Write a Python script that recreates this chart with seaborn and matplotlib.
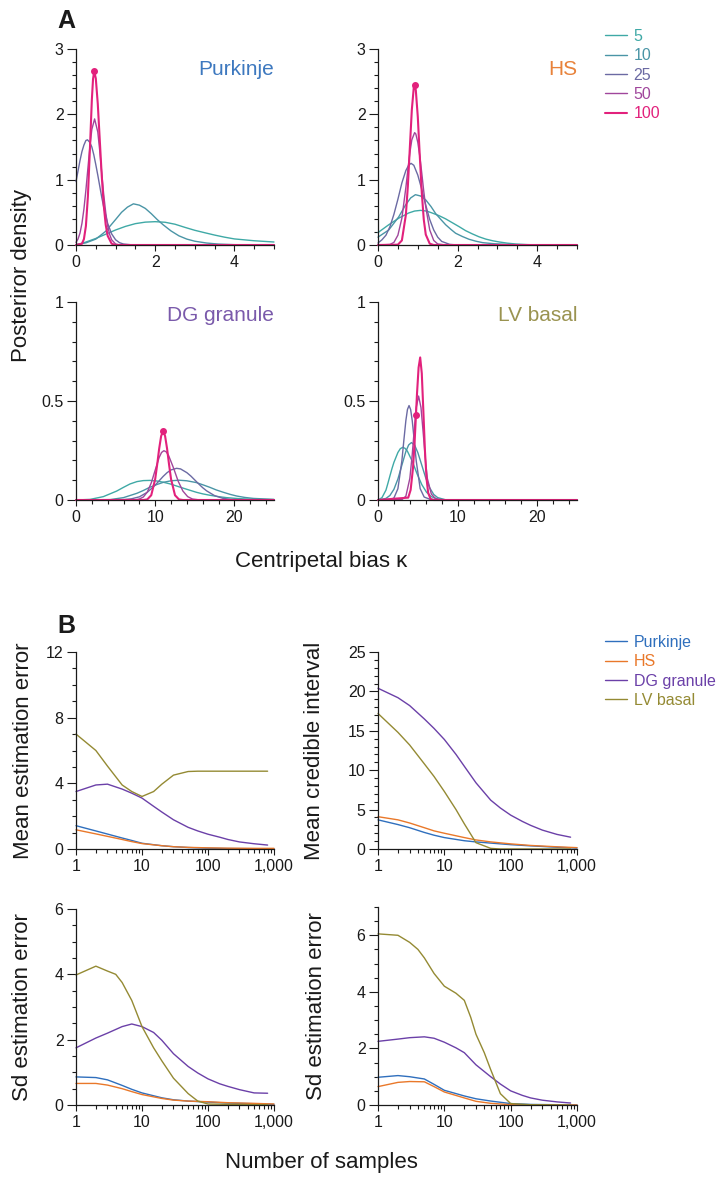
import matplotlib
matplotlib.use("Agg")
import matplotlib.pyplot as plt
import seaborn as sns
from matplotlib.ticker import FixedLocator, MultipleLocator, LogLocator, NullFormatter, FixedFormatter

# ------------------------------------------------------------------ data
sample_labels = ["5", "10", "25", "50", "100"]
cell_types = ["Purkinje", "HS", "DG granule", "LV basal"]

# Panel A: posterior density curves (x = centripetal bias, y = density)
purk_x5 = [0, 0.25, 0.5, 0.75, 1.0, 1.25, 1.5, 1.75, 2.0, 2.25, 2.5, 2.75, 3.0, 3.25, 3.5, 3.75, 4.0, 4.5, 5.0]
purk_y5 = [0.0, 0.045, 0.1, 0.165, 0.23, 0.285, 0.327, 0.35, 0.357, 0.348, 0.318, 0.27, 0.225, 0.188, 0.152, 0.12, 0.093, 0.065, 0.046]
purk_x10 = [0, 0.25, 0.5, 0.75, 1.0, 1.15, 1.3, 1.45, 1.6, 1.75, 1.9, 2.05, 2.2, 2.4, 2.6, 2.8, 3.0, 3.3, 3.6, 4.0, 4.5, 5.0]
purk_y10 = [0.005, 0.033, 0.09, 0.21, 0.39, 0.5, 0.58, 0.63, 0.61, 0.56, 0.48, 0.39, 0.31, 0.215, 0.14, 0.09, 0.058, 0.03, 0.014, 0.005, 0.0, 0.0]
purk_x25 = [0, 0.05, 0.1, 0.15, 0.2, 0.25, 0.29, 0.35, 0.4, 0.45, 0.5, 0.55, 0.6, 0.65, 0.7, 0.75, 0.8, 0.9, 1.0, 1.1, 1.2, 1.4, 1.6, 5.0]
purk_y25 = [0.97, 1.13, 1.29, 1.43, 1.53, 1.60, 1.61, 1.57, 1.50, 1.38, 1.23, 1.07, 0.90, 0.73, 0.58, 0.45, 0.33, 0.17, 0.08, 0.035, 0.015, 0.003, 0.0, 0.0]
purk_x50 = [0, 0.05, 0.1, 0.15, 0.2, 0.25, 0.3, 0.35, 0.4, 0.47, 0.55, 0.6, 0.65, 0.7, 0.75, 0.8, 0.85, 0.9, 1.0, 1.1, 1.2, 5.0]
purk_y50 = [0.04, 0.09, 0.18, 0.33, 0.55, 0.84, 1.17, 1.50, 1.77, 1.93, 1.73, 1.44, 1.10, 0.77, 0.50, 0.29, 0.16, 0.08, 0.015, 0.002, 0.0, 0.0]
purk_x100 = [0, 0.15, 0.2, 0.25, 0.3, 0.35, 0.4, 0.43, 0.46, 0.5, 0.55, 0.6, 0.65, 0.7, 0.75, 0.8, 0.9, 1.0, 5.0]
purk_y100 = [0, 0.02, 0.09, 0.29, 0.74, 1.45, 2.22, 2.54, 2.66, 2.55, 2.16, 1.61, 1.06, 0.61, 0.31, 0.14, 0.02, 0.0, 0.0]
purk_dot = [0.46, 2.66]

hs_x5 = [0, 0.27, 0.52, 0.77, 0.92, 1.07, 1.22, 1.36, 1.53, 1.70, 1.87, 2.04, 2.2, 2.37, 2.54, 2.71, 2.88, 3.05, 3.25, 3.47, 3.75, 4.06, 5.0]
hs_y5 = [0.19, 0.31, 0.41, 0.49, 0.52, 0.53, 0.52, 0.49, 0.45, 0.40, 0.34, 0.28, 0.22, 0.17, 0.125, 0.09, 0.065, 0.046, 0.028, 0.015, 0.006, 0.0, 0.0]
hs_x10 = [0, 0.27, 0.52, 0.69, 0.82, 0.94, 1.07, 1.20, 1.33, 1.45, 1.58, 1.70, 1.83, 1.95, 2.12, 2.29, 2.46, 2.63, 2.9, 3.22, 3.64, 5.0]
hs_y10 = [0.12, 0.23, 0.43, 0.61, 0.72, 0.77, 0.75, 0.69, 0.59, 0.48, 0.39, 0.31, 0.24, 0.18, 0.13, 0.087, 0.058, 0.036, 0.02, 0.01, 0.0, 0.0]
hs_x25 = [0, 0.1, 0.2, 0.3, 0.4, 0.5, 0.6, 0.7, 0.77, 0.83, 0.9, 1.0, 1.1, 1.2, 1.3, 1.4, 1.5, 1.6, 1.8, 2.0, 5.0]
hs_y25 = [0.03, 0.08, 0.15, 0.28, 0.47, 0.70, 0.95, 1.14, 1.22, 1.25, 1.22, 1.07, 0.85, 0.61, 0.39, 0.23, 0.12, 0.055, 0.01, 0.0, 0.0]
hs_x50 = [0, 0.3, 0.4, 0.5, 0.6, 0.7, 0.75, 0.8, 0.85, 0.92, 0.95, 1.0, 1.05, 1.1, 1.15, 1.2, 1.3, 1.4, 1.5, 1.7, 5.0]
hs_y50 = [0.0, 0.008, 0.04, 0.15, 0.41, 0.88, 1.15, 1.41, 1.61, 1.72, 1.70, 1.57, 1.36, 1.10, 0.82, 0.58, 0.23, 0.07, 0.016, 0.0, 0.0]
hs_x100 = [0, 0.5, 0.6, 0.7, 0.75, 0.8, 0.85, 0.9, 0.92, 0.95, 1.0, 1.05, 1.1, 1.15, 1.2, 1.3, 1.4, 5.0]
hs_y100 = [0, 0.005, 0.07, 0.46, 0.90, 1.49, 2.07, 2.42, 2.45, 2.37, 1.96, 1.36, 0.80, 0.39, 0.16, 0.02, 0.0, 0.0]
hs_dot = [0.92, 2.45]

dg_x5 = [0, 1.77, 3.45, 5.13, 6.0, 6.82, 7.7, 8.5, 9.35, 10.2, 11.0, 11.9, 12.75, 13.6, 14.4, 15.2, 16.0, 16.9, 18.0, 19.0, 20.2, 21.5, 23.0, 25.0]
dg_y5 = [0, 0.003, 0.017, 0.045, 0.064, 0.081, 0.093, 0.098, 0.099, 0.096, 0.09, 0.081, 0.07, 0.059, 0.049, 0.039, 0.031, 0.024, 0.017, 0.012, 0.008, 0.005, 0.003, 0.0017]
dg_x10 = [0, 4.3, 6.0, 7.7, 8.5, 9.3, 10.2, 11.0, 12.0, 13.0, 14.0, 15.2, 16.0, 16.9, 17.7, 18.6, 19.5, 20.3, 21.3, 22.4, 25.0]
dg_y10 = [0, 0.002, 0.012, 0.034, 0.048, 0.064, 0.078, 0.089, 0.097, 0.10, 0.097, 0.088, 0.077, 0.064, 0.051, 0.039, 0.028, 0.02, 0.013, 0.008, 0.003]
dg_x25 = [0, 6, 7, 8, 9, 10, 10.5, 11, 11.5, 12, 12.7, 13.2, 14, 14.5, 15, 15.5, 16, 16.5, 17.5, 18.5, 19.5, 21, 25]
dg_y25 = [0, 0.002, 0.006, 0.016, 0.039, 0.075, 0.097, 0.119, 0.138, 0.152, 0.16, 0.157, 0.138, 0.121, 0.101, 0.081, 0.062, 0.046, 0.022, 0.009, 0.003, 0.0, 0.0]
dg_x50 = [0, 7.5, 8, 8.5, 9, 9.5, 10, 10.5, 10.8, 11.1, 11.4, 11.7, 12.3, 12.9, 13.5, 14.1, 14.7, 15.5, 16.5, 25]
dg_y50 = [0, 0.001, 0.005, 0.015, 0.040, 0.086, 0.151, 0.215, 0.24, 0.249, 0.243, 0.224, 0.163, 0.095, 0.045, 0.017, 0.005, 0.001, 0.0, 0.0]
dg_x100 = [0, 8.5, 9.0, 9.5, 10.0, 10.25, 10.5, 10.75, 11.0, 11.25, 11.5, 11.75, 12.0, 12.5, 13.0, 13.5, 25]
dg_y100 = [0, 0.0, 0.003, 0.024, 0.106, 0.179, 0.259, 0.323, 0.348, 0.323, 0.259, 0.179, 0.106, 0.024, 0.003, 0.0, 0.0]
dg_dot = [11.0, 0.348]

lv_x5 = [0, 0.5, 1.0, 1.25, 1.5, 1.75, 2.0, 2.5, 2.8, 3.1, 3.4, 3.7, 4.3, 4.9, 5.5, 6.1, 6.7, 7.5, 8.5, 9.5, 25]
lv_y5 = [0.0, 0.012, 0.05, 0.085, 0.122, 0.158, 0.19, 0.24, 0.259, 0.266, 0.261, 0.246, 0.196, 0.133, 0.078, 0.039, 0.017, 0.004, 0.001, 0.0, 0.0]
lv_x10 = [0, 1.0, 1.5, 2.0, 2.5, 3.0, 3.5, 3.85, 4.2, 4.6, 5.0, 5.5, 6.0, 6.5, 7.0, 7.5, 8.5, 9.5, 25]
lv_y10 = [0.0, 0.008, 0.023, 0.054, 0.106, 0.176, 0.245, 0.278, 0.29, 0.277, 0.24, 0.176, 0.111, 0.061, 0.028, 0.012, 0.001, 0.0, 0.0]
lv_x25 = [0, 1.5, 2.0, 2.5, 3.0, 3.25, 3.5, 3.7, 3.9, 4.1, 4.3, 4.55, 4.8, 5.3, 5.8, 6.5, 7.5, 25]
lv_y25 = [0, 0.001, 0.01, 0.057, 0.198, 0.302, 0.401, 0.457, 0.477, 0.457, 0.401, 0.302, 0.198, 0.057, 0.015, 0.004, 0.0, 0.0]
lv_x50 = [0, 3.0, 3.5, 4.0, 4.3, 4.5, 4.8, 5.1, 5.4, 5.7, 6.0, 6.2, 6.7, 7.2, 8.0, 25]
lv_y50 = [0, 0.002, 0.019, 0.109, 0.229, 0.329, 0.467, 0.525, 0.467, 0.329, 0.183, 0.109, 0.03, 0.008, 0.0, 0.0]
lv_x100 = [0, 3.8, 4.1, 4.4, 4.6, 4.77, 4.9, 5.1, 5.3, 5.5, 5.7, 5.9, 6.1, 6.3, 6.6, 7.0, 25]
lv_y100 = [0, 0.012, 0.051, 0.163, 0.293, 0.43, 0.537, 0.669, 0.72, 0.64, 0.447, 0.247, 0.107, 0.037, 0.005, 0.0, 0.0]
lv_dot = [4.77, 0.43]

# Panel B: statistics vs number of samples
n_grid_a = [1, 2, 3, 5, 7, 10, 15, 20, 30, 50, 70, 100, 150, 200, 300, 500, 800]
n_grid_b = [1, 2, 3, 5, 7, 10, 20, 30, 50, 100, 200, 500, 1000]
n_grid_c = [1, 2, 3, 4, 5, 7, 10, 15, 20, 30, 50, 70, 100, 200, 500, 800]
n_grid_d = [1, 2, 3, 4, 5, 7, 10, 15, 20, 25, 30, 40, 50, 70, 100, 200, 800]

mee_purk = [1.42, 1.10, 0.91, 0.67, 0.52, 0.35, 0.2, 0.14, 0.09, 0.05, 0.03, 0.02, 0.01]
mee_hs = [1.17, 0.92, 0.77, 0.58, 0.45, 0.33, 0.2, 0.14, 0.1, 0.07, 0.05, 0.04, 0.04]
mee_dg = [3.5, 3.9, 3.95, 3.65, 3.4, 3.1, 2.6, 2.25, 1.78, 1.32, 1.1, 0.9, 0.72, 0.58, 0.43, 0.32, 0.24]
mee_lv = [7.0, 6.0, 5.05, 3.9, 3.5, 3.2, 3.5, 3.95, 4.5, 4.72, 4.74, 4.74, 4.74, 4.74, 4.74, 4.74, 4.74]

mci_purk = [3.7, 3.1, 2.7, 2.1, 1.75, 1.45, 1.05, 0.9, 0.75, 0.55, 0.4, 0.22, 0.12]
mci_hs = [4.1, 3.7, 3.3, 2.7, 2.3, 2.0, 1.45, 1.15, 0.9, 0.65, 0.45, 0.28, 0.17]
mci_dg = [20.4, 19.2, 18.2, 16.5, 15.3, 13.9, 12.0, 10.5, 8.4, 6.2, 5.2, 4.3, 3.5, 3.0, 2.4, 1.85, 1.5]
mci_lv = [17.2, 14.8, 13.2, 10.8, 9.2, 7.3, 5.0, 3.2, 0.8, 0.08, 0.0, 0.0, 0.0, 0.0, 0.0, 0.0, 0.0]

sd1_purk = [0.86, 0.84, 0.77, 0.6, 0.48, 0.37, 0.22, 0.16, 0.12, 0.09, 0.06, 0.04, 0.02]
sd1_hs = [0.66, 0.66, 0.61, 0.5, 0.41, 0.32, 0.2, 0.15, 0.12, 0.1, 0.07, 0.05, 0.03]
sd1_dg = [1.75, 2.05, 2.2, 2.4, 2.48, 2.4, 2.22, 1.98, 1.57, 1.18, 0.98, 0.8, 0.65, 0.57, 0.47, 0.37, 0.36]
sd1_lv = [3.98, 4.25, 4.1, 4.0, 3.75, 3.2, 2.4, 1.75, 1.35, 0.82, 0.35, 0.12, 0.03, 0.02, 0.01, 0.01]

sd2_purk = [0.98, 1.04, 1.0, 0.92, 0.73, 0.52, 0.32, 0.22, 0.14, 0.05, 0.02, 0.01, 0.0]
sd2_hs = [0.65, 0.8, 0.83, 0.82, 0.65, 0.46, 0.25, 0.13, 0.06, 0.01, 0.0, 0.0, 0.0]
sd2_dg = [2.25, 2.33, 2.38, 2.41, 2.36, 2.22, 2.02, 1.85, 1.42, 1.0, 0.74, 0.5, 0.34, 0.25, 0.17, 0.11, 0.07]
sd2_lv = [6.05, 6.0, 5.75, 5.5, 5.2, 4.65, 4.2, 3.95, 3.7, 3.1, 2.5, 1.85, 1.25, 0.4, 0.05, 0.01, 0.0]

# ------------------------------------------------------------------ style
sns.set_theme(style="ticks")
plt.rcParams["font.family"] = ["Liberation Sans", "DejaVu Sans"]
plt.rcParams["text.color"] = "#1a1a1a"

W, H = 717, 1178
fig = plt.figure(figsize=(W / 100, H / 100), dpi=100)

def rect(l, r, t, b):
    return [l / W, 1 - b / H, (r - l) / W, (b - t) / H]

sample_colors = ["#3fa9a6", "#4a95a6", "#6b6aa3", "#a0469c", "#e2217c"]
sample_lw = [1.0, 1.0, 1.0, 1.0, 1.5]
cell_line_colors = ["#2f6fbd", "#e9782a", "#6b40a8", "#948a33"]
cell_text_colors = ["#3d78bf", "#e8823a", "#7a5aab", "#9a9350"]
AX = "#1a1a1a"
TICK_FS = 11.5

def style(ax):
    sns.despine(ax=ax)
    for s in ("left", "bottom"):
        ax.spines[s].set_color(AX)
        ax.spines[s].set_linewidth(0.9)
    ax.tick_params(axis="both", which="both", direction="out", color=AX, width=0.8,
                   labelsize=TICK_FS, labelcolor=AX, pad=2.5)
    ax.tick_params(axis="y", which="major", length=6.5)
    ax.tick_params(axis="y", which="minor", length=3.2)
    ax.tick_params(axis="x", which="major", length=4.5)
    ax.tick_params(axis="x", which="minor", length=3.2)
    ax.set_xlabel("")
    ax.set_ylabel("")

# ------------------------------------------------------------------ panel A
panelA = [
    (rect(76, 274, 49, 245), [purk_x5, purk_x10, purk_x25, purk_x50, purk_x100],
     [purk_y5, purk_y10, purk_y25, purk_y50, purk_y100], purk_dot, 0, (0, 5), (0, 3)),
    (rect(378, 577, 49, 245), [hs_x5, hs_x10, hs_x25, hs_x50, hs_x100],
     [hs_y5, hs_y10, hs_y25, hs_y50, hs_y100], hs_dot, 1, (0, 5), (0, 3)),
    (rect(76, 274, 302, 500), [dg_x5, dg_x10, dg_x25, dg_x50, dg_x100],
     [dg_y5, dg_y10, dg_y25, dg_y50, dg_y100], dg_dot, 2, (0, 25), (0, 1)),
    (rect(378, 577, 302, 500), [lv_x5, lv_x10, lv_x25, lv_x50, lv_x100],
     [lv_y5, lv_y10, lv_y25, lv_y50, lv_y100], lv_dot, 3, (0, 25), (0, 1)),
]
axesA = []
for pos, xs, ys, dot, ci, xl, yl in panelA:
    ax = fig.add_axes(pos)
    for k in range(5):
        sns.lineplot(x=xs[k], y=ys[k], ax=ax, color=sample_colors[k], linewidth=sample_lw[k],
                     label=sample_labels[k], legend=False, clip_on=False)
    ax.plot([dot[0]], [dot[1]], "o", color=sample_colors[4], ms=4, clip_on=False)
    ax.set_xlim(*xl)
    ax.set_ylim(*yl)
    style(ax)
    if xl[1] == 5:
        ax.xaxis.set_major_locator(FixedLocator([0, 2, 4]))
        ax.xaxis.set_minor_locator(MultipleLocator(0.5))
        ax.yaxis.set_major_locator(FixedLocator([0, 1, 2, 3]))
        ax.yaxis.set_major_formatter(FixedFormatter(["0", "1", "2", "3"]))
        ax.yaxis.set_minor_locator(MultipleLocator(0.2))
        ty = 0.868
    else:
        ax.xaxis.set_major_locator(FixedLocator([0, 10, 20]))
        ax.xaxis.set_minor_locator(MultipleLocator(2))
        ax.yaxis.set_major_locator(FixedLocator([0, 0.5, 1]))
        ax.yaxis.set_major_formatter(FixedFormatter(["0", "0.5", "1"]))
        ax.yaxis.set_minor_locator(MultipleLocator(0.1))
        ty = 0.905
    ax.text(1.0, ty, cell_types[ci], transform=ax.transAxes, ha="right", va="baseline",
            fontsize=15, color=cell_text_colors[ci])
    axesA.append(ax)

hA, lA = axesA[1].get_legend_handles_labels()
fig.legend(hA, lA, loc="upper left", bbox_to_anchor=(605 / W, 1 - 29 / H), frameon=False,
           fontsize=11.5, labelcolor="linecolor", handlelength=1.35, handletextpad=0.45,
           labelspacing=0.27, borderpad=0, borderaxespad=0)

fig.text(22 / W, 1 - 275 / H, "Posteriror density", rotation=90, ha="center", va="center", fontsize=16)
fig.text(321 / W, 1 - 567 / H, "Centripetal bias \u03ba", ha="center", va="baseline", fontsize=16)

# ------------------------------------------------------------------ panel B
panelB = [
    (rect(76, 274, 652, 849), [mee_purk, mee_hs, mee_dg, mee_lv], (0, 12), [0, 4, 8, 12], 1,
     "Mean estimation error", 24),
    (rect(378, 577, 652, 849), [mci_purk, mci_hs, mci_dg, mci_lv], (0, 25), [0, 5, 10, 15, 20, 25], 1,
     "Mean credible interval", 315),
    (rect(76, 274, 909, 1105), [sd1_purk, sd1_hs, sd1_dg, sd1_lv], (0, 6), [0, 2, 4, 6], 0.5,
     "Sd estimation error", 23),
    (rect(378, 577, 907, 1105), [sd2_purk, sd2_hs, sd2_dg, sd2_lv], (0, 7), [0, 2, 4, 6], 0.5,
     "Sd estimation error", 316),
]
xgrids = {0: [n_grid_b, n_grid_b, n_grid_a, n_grid_a],
          1: [n_grid_b, n_grid_b, n_grid_a, n_grid_a],
          2: [n_grid_b, n_grid_b, n_grid_a, n_grid_c],
          3: [n_grid_b, n_grid_b, n_grid_a, n_grid_d]}
axesB = []
for i, (pos, series, yl, yt, ymin, ylab, ylx) in enumerate(panelB):
    ax = fig.add_axes(pos)
    ax.set_xscale("log")
    for k in range(4):
        sns.lineplot(x=xgrids[i][k], y=series[k], ax=ax, color=cell_line_colors[k], linewidth=1.0,
                     label=cell_types[k], legend=False, clip_on=False)
    ax.set_xlim(1, 1000)
    ax.set_ylim(*yl)
    style(ax)
    ax.xaxis.set_major_locator(FixedLocator([1, 10, 100, 1000]))
    ax.xaxis.set_major_formatter(FixedFormatter(["1", "10", "100", "1,000"]))
    ax.xaxis.set_minor_locator(LogLocator(base=10, subs=range(2, 10)))
    ax.xaxis.set_minor_formatter(NullFormatter())
    ax.yaxis.set_major_locator(FixedLocator(yt))
    ax.yaxis.set_major_formatter(FixedFormatter([str(v) for v in yt]))
    ax.yaxis.set_minor_locator(MultipleLocator(ymin))
    bb = ax.get_position()
    fig.text(ylx / W, bb.y0 + bb.height / 2, ylab, rotation=90, ha="center", va="center", fontsize=16)
    axesB.append(ax)

hB, lB = axesB[1].get_legend_handles_labels()
fig.legend(hB, lB, loc="upper left", bbox_to_anchor=(605 / W, 1 - 635 / H), frameon=False,
           fontsize=11.5, labelcolor="linecolor", handlelength=1.35, handletextpad=0.45,
           labelspacing=0.27, borderpad=0, borderaxespad=0)

fig.text(321 / W, 1 - 1168 / H, "Number of samples", ha="center", va="baseline", fontsize=16)

fig.text(57 / W, 1 - 28 / H, "A", ha="left", va="baseline", fontsize=18, fontweight="bold")
fig.text(57 / W, 1 - 633 / H, "B", ha="left", va="baseline", fontsize=18, fontweight="bold")

fig.savefig("out.png", dpi=100)
